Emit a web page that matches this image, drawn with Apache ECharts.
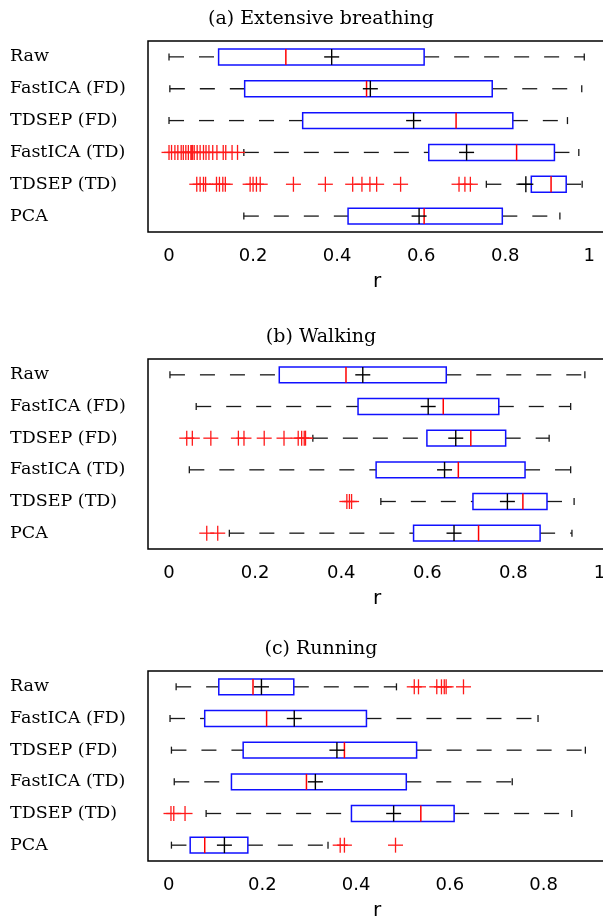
<!DOCTYPE html>
<html>
<head>
<meta charset="utf-8">
<script src="https://cdn.jsdelivr.net/npm/echarts@6/dist/echarts.min.js"></script>
<style>
  html, body { margin: 0; padding: 0; background: #fff; }
  #chart { width: 603px; height: 920px; }
</style>
</head>
<body>
<div id="chart"></div>
<script>
// methods, top to bottom
const categories = ['Raw', 'FastICA (FD)', 'TDSEP (FD)', 'FastICA (TD)', 'TDSEP (TD)', 'PCA']

// per method: [lower whisker, q1, median, q3, upper whisker, mean]
const breathingStats = [
  [0.0, 0.118, 0.278, 0.607, 0.988, 0.387],
  [0.002, 0.18, 0.47, 0.769, 0.982, 0.479],
  [0.0, 0.318, 0.683, 0.818, 0.948, 0.582],
  [0.178, 0.618, 0.827, 0.917, 0.975, 0.708],
  [0.755, 0.862, 0.909, 0.945, 0.983, 0.849],
  [0.178, 0.426, 0.607, 0.793, 0.93, 0.595]
]
const breathingOutliers = [
  [],
  [],
  [],
  [0, 0.006, 0.014, 0.021, 0.029, 0.034, 0.04, 0.046, 0.052, 0.054, 0.056, 0.06,
    0.067, 0.074, 0.082, 0.088, 0.095, 0.104, 0.114, 0.129, 0.135, 0.15, 0.163],
  [0.066, 0.074, 0.082, 0.087, 0.113, 0.12, 0.128, 0.134, 0.193, 0.2, 0.208, 0.217,
    0.296, 0.372, 0.437, 0.459, 0.478, 0.494, 0.551, 0.69, 0.704, 0.717],
  []
]

const walkingStats = [
  [0.002, 0.256, 0.411, 0.644, 0.966, 0.45],
  [0.063, 0.439, 0.637, 0.766, 0.933, 0.602],
  [0.334, 0.599, 0.701, 0.782, 0.883, 0.666],
  [0.047, 0.481, 0.672, 0.827, 0.933, 0.64],
  [0.492, 0.706, 0.822, 0.878, 0.941, 0.786],
  [0.14, 0.568, 0.719, 0.862, 0.936, 0.662]
]
const walkingOutliers = [
  [],
  [],
  [0.041, 0.054, 0.097, 0.161, 0.174, 0.221, 0.267, 0.3, 0.308, 0.314, 0.317],
  [],
  [0.413, 0.419, 0.424],
  [0.0875, 0.113]
]

const runningStats = [
  [0.016, 0.107, 0.18, 0.267, 0.486, 0.198],
  [0.003, 0.077, 0.209, 0.422, 0.788, 0.268],
  [0.006, 0.159, 0.375, 0.529, 0.889, 0.359],
  [0.012, 0.134, 0.294, 0.507, 0.733, 0.313],
  [0.08, 0.39, 0.538, 0.609, 0.86, 0.48],
  [0.006, 0.046, 0.077, 0.169, 0.34, 0.119]
]
const runningOutliers = [
  [0.524, 0.533, 0.572, 0.582, 0.588, 0.592, 0.629],
  [],
  [],
  [],
  [0.005, 0.011, 0.035],
  [0.366, 0.375, 0.484]
]

const ticksToOne = [0, 0.2, 0.4, 0.6, 0.8, 1]
const ticksToEight = [0, 0.2, 0.4, 0.6, 0.8]

const panels = [
  { title: '(a) Extensive breathing', stats: breathingStats, outliers: breathingOutliers,
    top: 41, height: 191, min: -0.05, max: 1.0397, ticks: ticksToOne },
  { title: '(b) Walking', stats: walkingStats, outliers: walkingOutliers,
    top: 359, height: 190, min: -0.049, max: 1.0151, ticks: ticksToOne },
  { title: '(c) Running', stats: runningStats, outliers: runningOutliers,
    top: 671, height: 190, min: -0.044, max: 0.933, ticks: ticksToEight }
]

const black = '#000'
const serif = 'DejaVu Serif'
const sans = 'DejaVu Sans'

function line(x1, y1, x2, y2, style) {
  return { type: 'line', shape: { x1, y1, x2, y2 }, style }
}

function renderBox(params, api) {
  const cat = api.value(0)
  const low = api.coord([api.value(1), cat])
  const q1 = api.coord([api.value(2), cat])
  const med = api.coord([api.value(3), cat])
  const q3 = api.coord([api.value(4), cat])
  const high = api.coord([api.value(5), cat])
  const mean = api.coord([api.value(6), cat])
  const y = low[1]
  const h = api.size([0, 1])[1] * 0.5
  const whisker = { stroke: '#1a1a1a', lineWidth: 1.3, lineDash: [15, 15], fill: null }
  const cap = { stroke: '#1a1a1a', lineWidth: 1.3, fill: null }
  return {
    type: 'group',
    children: [
      line(low[0], y, q1[0], y, whisker),
      line(q3[0], y, high[0], y, whisker),
      line(low[0], y - 3.5, low[0], y + 3.5, cap),
      line(high[0], y - 3.5, high[0], y + 3.5, cap),
      {
        type: 'rect',
        shape: { x: q1[0], y: y - h / 2, width: q3[0] - q1[0], height: h },
        style: { stroke: '#1010ff', lineWidth: 1.5, fill: null }
      },
      line(med[0], y - h / 2, med[0], y + h / 2, { stroke: '#ff0000', lineWidth: 1.5 }),
      line(mean[0] - 7.5, y, mean[0] + 7.5, y, { stroke: black, lineWidth: 1.4 }),
      line(mean[0], y - h / 2, mean[0], y + h / 2, { stroke: black, lineWidth: 1.4 })
    ]
  }
}

function renderOutlier(params, api) {
  const p = api.coord([api.value(1), api.value(0)])
  const s = 7.5
  const style = { stroke: '#ff1a1a', lineWidth: 1.3 }
  return {
    type: 'group',
    children: [
      line(p[0] - s, p[1], p[0] + s, p[1], style),
      line(p[0], p[1] - s, p[0], p[1] + s, style)
    ]
  }
}

const grid = []
const xAxis = []
const yAxis = []
const series = []
const title = []

panels.forEach((panel, i) => {
  grid.push({
    left: 148, top: panel.top, width: 458, height: panel.height,
    outerBoundsMode: 'none', containLabel: false,
    show: true, borderColor: black, borderWidth: 1.5, backgroundColor: '#fff'
  })
  xAxis.push({
    type: 'value', gridIndex: i, position: 'bottom',
    min: panel.min, max: panel.max,
    name: 'r', nameLocation: 'middle', nameGap: 40,
    nameTextStyle: { fontFamily: sans, fontSize: 20, color: black },
    axisLine: { show: false },
    splitLine: { show: false },
    axisTick: { inside: true, length: 4, customValues: panel.ticks, lineStyle: { color: black } },
    axisLabel: { customValues: panel.ticks, margin: 15, fontFamily: sans, fontSize: 18, color: black }
  })
  xAxis.push({
    type: 'value', gridIndex: i, position: 'top',
    min: panel.min, max: panel.max,
    axisLine: { show: false },
    splitLine: { show: false },
    axisTick: { inside: true, length: 4, customValues: panel.ticks, lineStyle: { color: black } },
    axisLabel: { show: false }
  })
  yAxis.push({
    type: 'category', gridIndex: i, data: categories, inverse: true,
    axisLine: { show: false },
    axisTick: { show: false },
    axisLabel: { align: 'left', margin: 138, fontFamily: serif, fontSize: 17.5, color: black }
  })
  series.push({
    type: 'custom', xAxisIndex: i * 2, yAxisIndex: i,
    renderItem: renderBox,
    encode: { x: [1, 2, 3, 4, 5, 6], y: 0 },
    data: panel.stats.map((s, k) => [k].concat(s)),
    silent: true, z: 3
  })
  const pts = []
  panel.outliers.forEach((vals, k) => vals.forEach(v => pts.push([k, v])))
  series.push({
    type: 'custom', xAxisIndex: i * 2, yAxisIndex: i,
    renderItem: renderOutlier,
    encode: { x: 1, y: 0 },
    data: pts,
    silent: true, z: 4
  })
  title.push({
    text: panel.title, left: 316, top: panel.top - 36, textAlign: 'center',
    textStyle: { fontFamily: serif, fontSize: 19, fontWeight: 'normal', color: black }
  })
})

const chart = echarts.init(document.getElementById('chart'), null, { renderer: 'canvas' })
chart.setOption({
  animation: false,
  backgroundColor: '#fff',
  title,
  grid,
  xAxis,
  yAxis,
  series
})
</script>
</body>
</html>
